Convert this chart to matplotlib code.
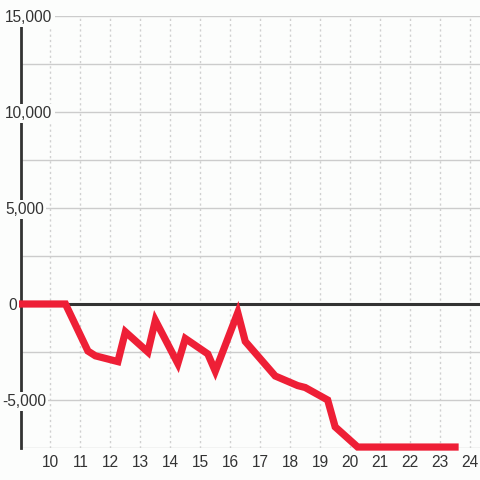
import matplotlib
matplotlib.use("Agg")
import matplotlib.pyplot as plt
from matplotlib import transforms

plt.rcParams['font.family'] = ['Liberation Sans', 'DejaVu Sans']

hours = [9, 10.5, 11.25, 11.5, 12.25, 12.5, 13.25, 13.5, 14.25, 14.5, 15.25, 15.5,
         16.25, 16.5, 17.5, 18.25, 18.5, 19.25, 19.5, 20.25, 23.5]
values = [0, 0, -2450, -2700, -3000, -1450, -2500, -850, -3100, -1800, -2600, -3500,
          -450, -1950, -3750, -4250, -4350, -5000, -6400, -7450, -7450]

x_ticks = list(range(10, 25))
y_label_values = [15000, 10000, 5000, 0, -5000]
y_label_texts = ["15,000", "10,000", "5,000", "0", "-5,000"]
y_grid = [-7500, -5000, -2500, 0, 2500, 5000, 7500, 10000, 12500, 15000]

bg = '#fcfdfc'
txt = '#333333'
W = H = 480
fig = plt.figure(figsize=(4.8, 4.8), dpi=100, facecolor=bg)
ax = fig.add_axes([20.5 / W, 32 / H, (W - 20.5) / W, (448 - 16) / H])
ax.set_facecolor(bg)
ax.set_xlim(9, 24.333)
ax.set_ylim(-7500, 15000)

ax.set_yticks(y_grid)
ax.set_xticks(x_ticks)
ax.set_yticklabels([])
ax.tick_params(length=0)
ax.set_xticklabels([str(t) for t in x_ticks], fontsize=11.2, color=txt)
ax.tick_params(axis='x', pad=5)

ax.yaxis.grid(True, color='#cccccc', lw=1.0, zorder=0)
ax.xaxis.grid(True, color='#d0d0d0', lw=1.0, ls=(0, (1.6, 2.2)), zorder=0)
ax.set_axisbelow(True)

for s in ['top', 'right', 'bottom']:
    ax.spines[s].set_visible(False)
ax.spines['left'].set_color(txt)
ax.spines['left'].set_linewidth(2.0)

ax.axhline(0, color=txt, lw=2.2, zorder=3)

ax.plot(hours, values, color='#ee1f36', lw=5.2, solid_capstyle='projecting',
        solid_joinstyle='miter', clip_on=False, zorder=4)

trans = transforms.blended_transform_factory(fig.transFigure, ax.transData)
label_left_px = [5, 5, 5, 8, 2]
for v, t, lx in zip(y_label_values, y_label_texts, label_left_px):
    ax.text(lx / W, v, t, transform=trans, ha='left', va='center_baseline', fontsize=11.2,
            color=txt, clip_on=False, zorder=10,
            bbox=dict(boxstyle='square,pad=0.15', fc=bg, ec='none'))

fig.savefig('out.png', dpi=100, facecolor=bg)
